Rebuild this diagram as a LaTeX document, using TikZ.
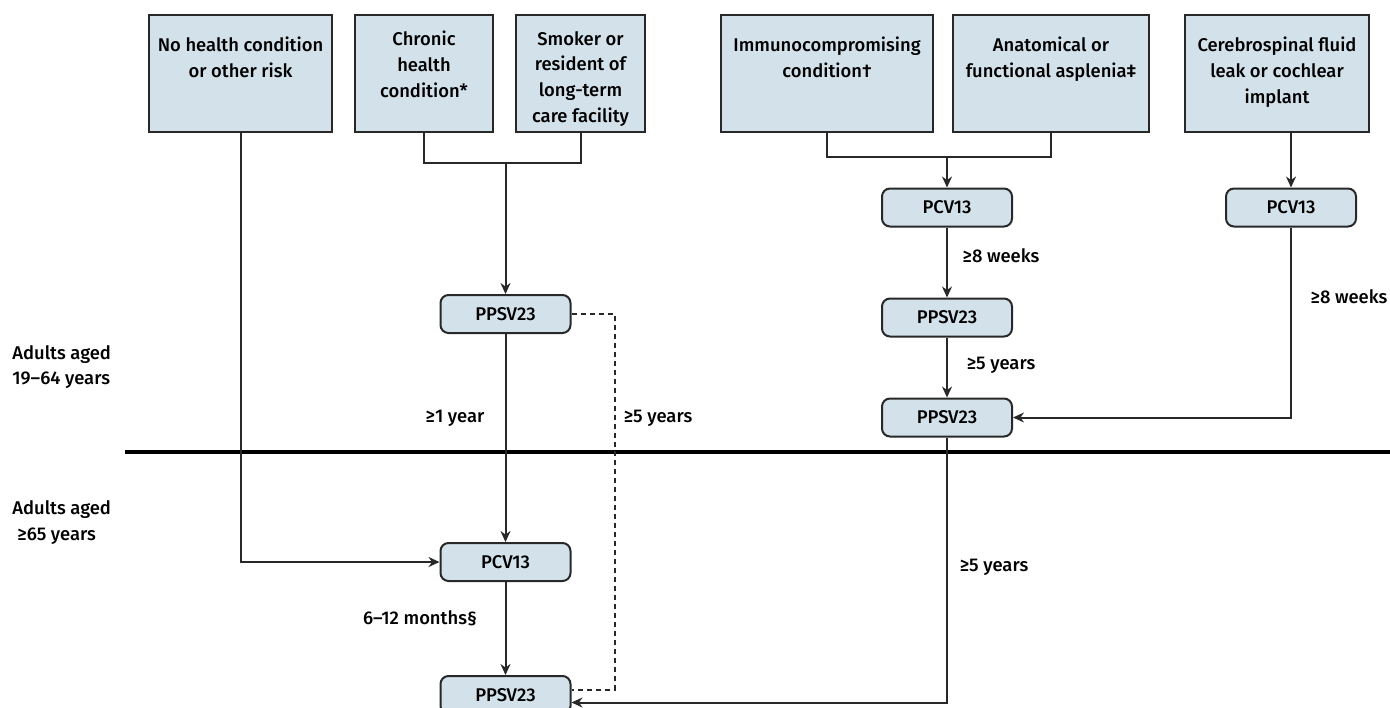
\documentclass[tikz,border=0pt]{standalone}
\usepackage{fontspec}
\setmainfont{Fira Sans Medium}
\usetikzlibrary{positioning, arrows.meta}

\definecolor{boxblue}{RGB}{211,226,234}
\definecolor{edge}{RGB}{40,40,40}

\begin{document}
\begin{tikzpicture}[x=0.5pt, y=-0.5pt, node distance=30pt, font=\fontsize{9.2}{12.9}\selectfont]
    \tikzstyle{group} = [rectangle,draw=edge,line width=1pt,fill=boxblue,minimum height=58.5pt,inner sep=0pt]
    \tikzstyle{boxtext} = [anchor=north,align=center,inner sep=0pt,yshift=-11.4pt]
    \tikzstyle{vaccine} = [rectangle,rounded corners=4pt,draw=edge,line width=1pt,fill=boxblue,minimum width=65pt,minimum height=19pt,inner sep=0pt]
    \tikzstyle{line} = [draw=edge,line width=1pt]
    \tikzstyle{arrow} = [line,-{Stealth[length=5.5pt,width=5pt]}]

    \useasboundingbox (0,0) rectangle (1390,707);

    % risk groups
    \node (none) [group, minimum width=91.5pt, label={[boxtext]north:No health condition\\or other risk}] at (240.5,73.5) {};
    \node (chronic) [group, minimum width=69pt, label={[boxtext, yshift=3pt]north:Chronic\\health\\condition*}] at (424,73.5) {};
    \node (smoker) [group, minimum width=64.5pt, label={[boxtext, yshift=3pt]north:Smoker or\\resident of\\long-term\\care facility}] at (580.5,73.5) {};
    \node (immuno) [group, minimum width=106pt, label={[boxtext]north:Immunocompromising\\condition†}] at (827,73.5) {};
    \node (asplenia) [group, minimum width=98pt, label={[boxtext]north:Anatomical or\\functional asplenia‡}] at (1051,73.5) {};
    \node (csf) [group, minimum width=92pt, label={[boxtext]north:Cerebrospinal fluid\\leak or cochlear\\implant}] at (1277,73.5) {};

    % vaccines
    \node (pp1) [vaccine] at (505.5,314) {PPSV23};
    \node (pc1) [vaccine, below=104pt of pp1] {PCV13};
    \node (pp2) [vaccine, below=46.5pt of pc1] {PPSV23};

    \node (pc2) [vaccine] at (947,207.5) {PCV13};
    \node (pp3) [vaccine, below=35pt of pc2] {PPSV23};
    \node (pp4) [vaccine, below=30pt of pp3] {PPSV23};
    \node (pc3) [vaccine, right=106pt of pc2] {PCV13};

    % age bands
    \node (young) [anchor=west, align=left, inner sep=0pt] at (12,367) {Adults aged\\19–64 years};
    \node (old) [anchor=west, align=left, inner sep=0pt] at (12,522.5) {Adults aged\\\hspace{2.5pt}≥65 years};
    \draw [line width=2pt] (125,452) -- (1390,452);

    % joins
    \coordinate (j1) at (505.5,163);
    \coordinate (j2) at (947,157);
    \draw [line] (chronic.south) |- (j1) -| (smoker.south);
    \draw [line] (immuno.south) |- (j2) -| (asplenia.south);

    % connectors
    \draw [arrow] (j1) -- (pp1);
    \draw [arrow] (pp1) -- (pc1);
    \draw [arrow] (pc1) -- (pp2);
    \draw [arrow] (none.south) |- (pc1.west);
    \draw [line, dash pattern=on 2.5pt off 2pt] (pp1.east) -- ++(21.5pt,0) |- ([yshift=2.75pt]pp2.east);
    \draw [arrow] (j2) -- (pc2);
    \draw [arrow] (pc2) -- (pp3);
    \draw [arrow] (pp3) -- (pp4);
    \draw [arrow] (csf.south -| pc3.north) -- (pc3.north);
    \draw [arrow] (pc3.south) |- (pp4.east);
    \draw [arrow] (pp4.south) |- ([yshift=-3.75pt]pp2.east);

    % intervals
    \node (t1) at (455,418) {≥1 year};
    \node (t2) at (658,418) {≥5 years};
    \node (t3) at (420,618) {6–12 months§};
    \node (t4) at (1001,256) {≥8 weeks};
    \node (t5) at (1001,365) {≥5 years};
    \node (t6) at (1349,297) {≥8 weeks};
    \node (t7) at (994,567) {≥5 years};
\end{tikzpicture}
\end{document}
